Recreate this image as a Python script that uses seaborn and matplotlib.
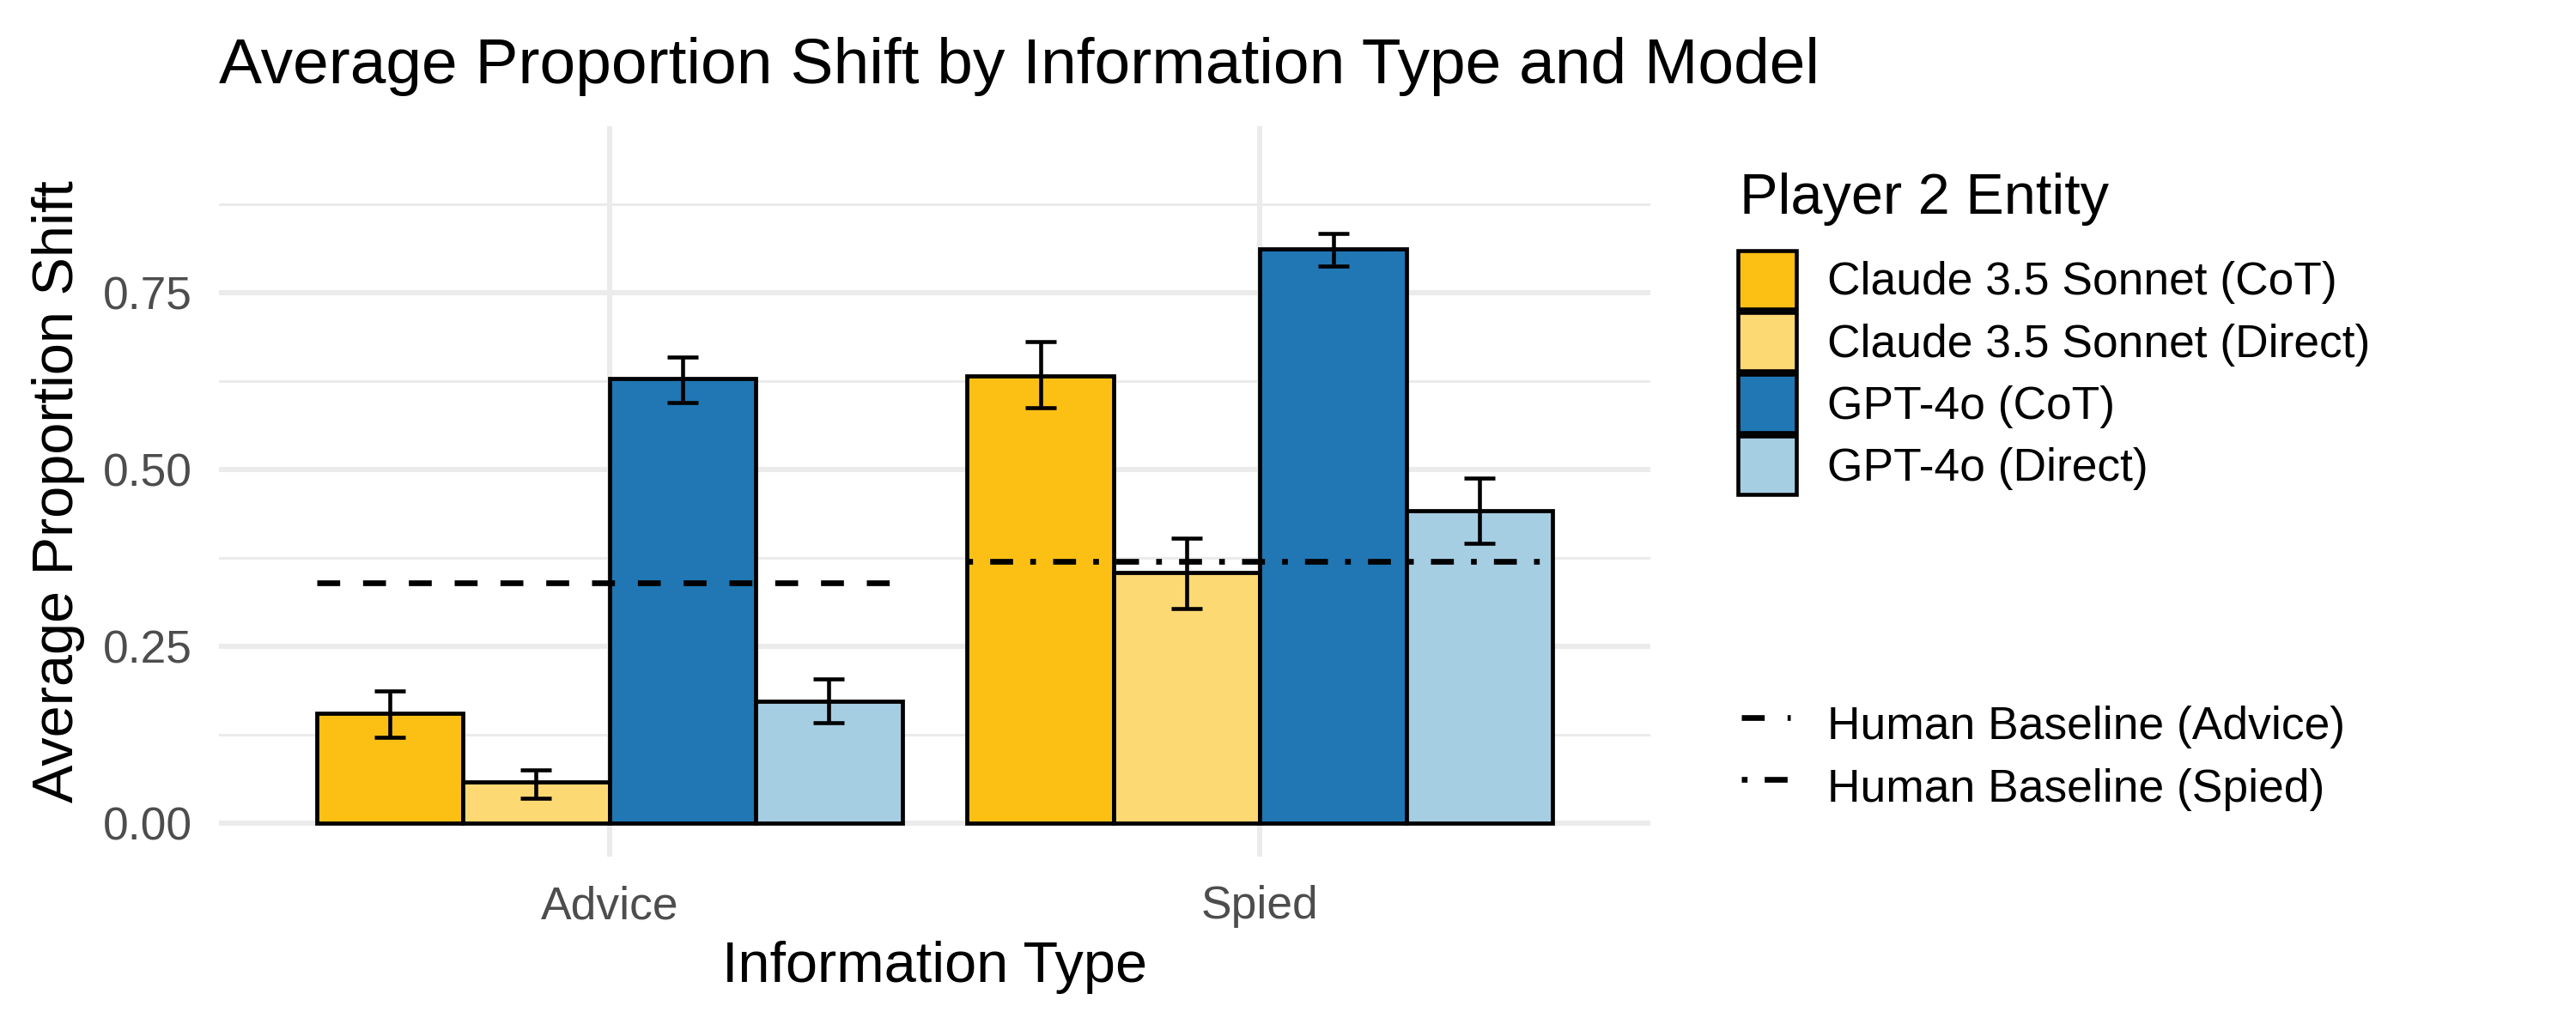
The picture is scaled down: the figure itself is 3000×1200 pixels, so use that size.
import seaborn as sns
import matplotlib.pyplot as plt
import pandas as pd
from matplotlib.patches import Patch
from matplotlib.lines import Line2D
from matplotlib.ticker import FixedLocator

# data
info_types = ["Advice", "Spied"]
entities = ["Claude 3.5 Sonnet (CoT)", "Claude 3.5 Sonnet (Direct)",
            "GPT-4o (CoT)", "GPT-4o (Direct)"]
advice_means = [0.155, 0.058, 0.628, 0.172]
spied_means = [0.632, 0.355, 0.811, 0.442]
advice_lower = [0.122, 0.036, 0.595, 0.142]
advice_upper = [0.187, 0.075, 0.659, 0.204]
spied_lower = [0.587, 0.304, 0.787, 0.396]
spied_upper = [0.681, 0.403, 0.834, 0.488]
baseline_labels = ["Human Baseline (Advice)", "Human Baseline (Spied)"]
baseline_values = [0.340, 0.370]

colors = ["#FCC015", "#FDD974", "#2077B4", "#A6CEE3"]
baseline_dashes = [(4, 4), (1, 3, 4, 3)]

rows = []
for t, means, lo, hi in [("Advice", advice_means, advice_lower, advice_upper),
                         ("Spied", spied_means, spied_lower, spied_upper)]:
    for e, m, l, h in zip(entities, means, lo, hi):
        rows.append({"Information Type": t, "Entity": e, "Shift": m, "lo": l, "hi": h})
df = pd.DataFrame(rows)

sns.set_style("white")
plt.rcParams["font.family"] = ["Liberation Sans", "DejaVu Sans"]
plt.rcParams["text.color"] = "black"
plt.rcParams["axes.labelcolor"] = "black"

fig = plt.figure(figsize=(10, 4), dpi=300)
ax = fig.add_axes([0.085, 0.1683, 0.5557, 0.7092])

sns.barplot(data=df, x="Information Type", y="Shift", hue="Entity",
            order=info_types, hue_order=entities, palette=colors,
            saturation=1, width=0.9, edgecolor="black", linewidth=1.15,
            errorbar=None, legend=False, ax=ax, zorder=2)
bar_conts = list(ax.containers)

# error bars at the bar centres seaborn laid out
for cont, ent in zip(bar_conts, entities):
    sub = df[df["Entity"] == ent].set_index("Information Type").loc[info_types]
    xs = [b.get_x() + b.get_width() / 2 for b in cont]
    ax.errorbar(xs, sub["Shift"], yerr=[sub["Shift"] - sub["lo"], sub["hi"] - sub["Shift"]],
                fmt="none", ecolor="black", elinewidth=1.1, capsize=4.4,
                capthick=1.1, zorder=4)

# human baselines spanning each group of bars
for i, (val, dash) in enumerate(zip(baseline_values, baseline_dashes)):
    left = min(c[i].get_x() for c in bar_conts)
    right = max(c[i].get_x() + c[i].get_width() for c in bar_conts)
    ax.plot([left, right], [val, val], color="black", lw=1.6, dashes=dash,
            solid_capstyle="butt", dash_capstyle="butt", zorder=3)

ax.set_xlim(-0.6, 1.6)
ax.set_ylim(-0.047, 0.985)
ax.set_yticks([0, 0.25, 0.5, 0.75])
ax.set_yticklabels(["0.00", "0.25", "0.50", "0.75"])
ax.yaxis.set_minor_locator(FixedLocator([0.125, 0.375, 0.625, 0.875]))
ax.grid(which="major", axis="both", color="#EBEBEB", lw=1.45)
ax.grid(which="minor", axis="y", color="#EBEBEB", lw=0.72)
ax.set_axisbelow(True)
for s in ax.spines.values():
    s.set_visible(False)
ax.tick_params(axis="both", which="both", length=0, labelsize=12.8, labelcolor="#4D4D4D")
ax.tick_params(axis="y", pad=7.5)
ax.tick_params(axis="x", pad=8)

ax.set_xlabel("Information Type", fontsize=16, labelpad=3.5)
ax.set_ylabel("Average Proportion Shift", fontsize=16, labelpad=5)

fig.text(0.085, 1 - 97 / 1200, "Average Proportion Shift by Information Type and Model",
         fontsize=18, ha="left", va="baseline")

# legends
fig.text(2026 / 3000, 1 - 249 / 1200, "Player 2 Entity", fontsize=16,
         ha="left", va="baseline")
fill_handles = [Patch(facecolor=c, edgecolor="black", linewidth=1.1) for c in colors]
leg1 = fig.legend(fill_handles, entities, loc="upper left",
                  bbox_to_anchor=(2024 / 3000, 1 - 292 / 1200), frameon=False,
                  fontsize=12.8, borderpad=0, borderaxespad=0, handlelength=1.275,
                  handleheight=1.585, labelspacing=0.075, handletextpad=0.675)

line_handles = [Line2D([], [], color="black", lw=1.6, dashes=d,
                       dash_capstyle="butt") for d in baseline_dashes]
leg2 = fig.legend(line_handles, baseline_labels, loc="upper left",
                  bbox_to_anchor=(2028 / 3000, 1 - 810 / 1200), frameon=False,
                  fontsize=12.8, borderpad=0, borderaxespad=0, handlelength=1.07,
                  handleheight=1.585, labelspacing=0.075, handletextpad=0.8)

fig.savefig("out.png", dpi=300)
